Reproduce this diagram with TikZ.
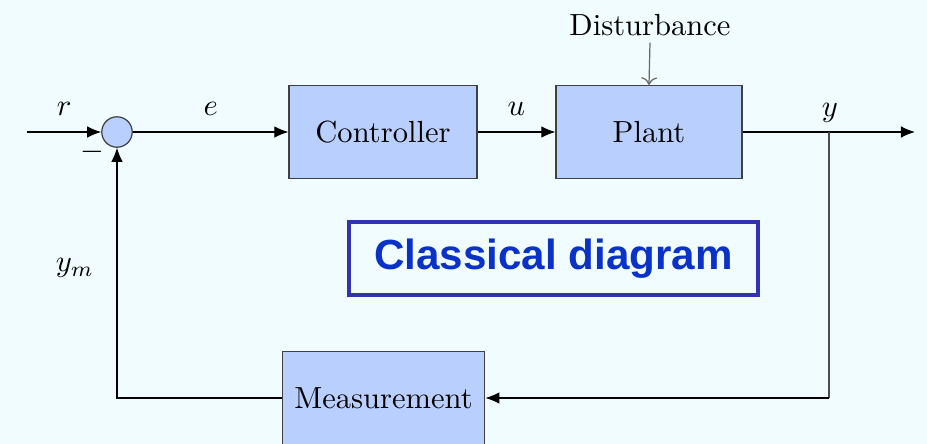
\documentclass[tikz,border=0pt]{standalone}
\usepackage{fontspec}
\usetikzlibrary{arrows.meta}
\newfontfamily\titlefont{Liberation Sans}
\definecolor{bgcol}{RGB}{240,252,255}
\definecolor{boxcol}{RGB}{185,208,255}
\definecolor{framecol}{RGB}{50,50,180}
\definecolor{titlecol}{RGB}{10,50,200}
\tikzset{
  block/.style={draw=black!75, fill=boxcol, minimum height=1.07cm, inner sep=2pt},
  sumnode/.style={circle, draw=black!75, fill=boxcol, minimum size=0.35cm, inner sep=0pt},
  sig/.style={-{Latex[length=4.6pt,width=3.8pt]}, black},
}
\begin{document}
\begin{tikzpicture}[x=0.0115cm, y=-0.0115cm]
            \fill[bgcol] (0,0) rectangle (927,444);
            \useasboundingbox (0,0) rectangle (927,444);

            \coordinate (In) at (27,132);
            \coordinate (Out) at (915,132);
            \coordinate (Branch) at (829,132);
            \coordinate (Corner) at (829,398);
            \coordinate (Back) at (117,398);

            \node[sumnode] (Sum) at (117,132) {};
            \node[block, minimum width=2.162cm] (Ctrl) at (383,132) {Controller};
            \node[block, minimum width=2.14cm] (Plant) at (649,132) {Plant};
            \node[block, minimum width=2.33cm] (Meas) at (383.5,398) {Measurement};
            \node (Dist) at (650,25) {Disturbance};

            \draw[sig] (In) -- (Sum) node[midway, above=2pt]{$r$};
            \draw[sig] (Sum) -- (Ctrl) node[midway, above=2pt]{$e$};
            \draw[sig] (Ctrl) -- (Plant) node[midway, above=2pt]{$u$};
            \draw[sig] (Plant) -- (Out);
            \node at (830,113) {$y$};
            \draw[->, black!60] (Dist.south) ++(0,-4) -- (Plant.north);

            \draw[black!70] (Branch) -- (Corner);
            \draw[sig] (Corner) -- (Meas);
            \draw[sig] (Meas) -- (Back) -- (Sum);
            \node at (75,268) {$y_m$};
            \node at (92,152) {$-$};

            \node[draw=framecol, line width=1.4pt, fill=bgcol, minimum width=4.70cm,
              minimum height=0.84cm, text=titlecol] (Title) at (553.5,258.5)
              {\titlefont\bfseries\fontsize{13.8}{16}\selectfont Classical diagram};
        \end{tikzpicture}
\end{document}
